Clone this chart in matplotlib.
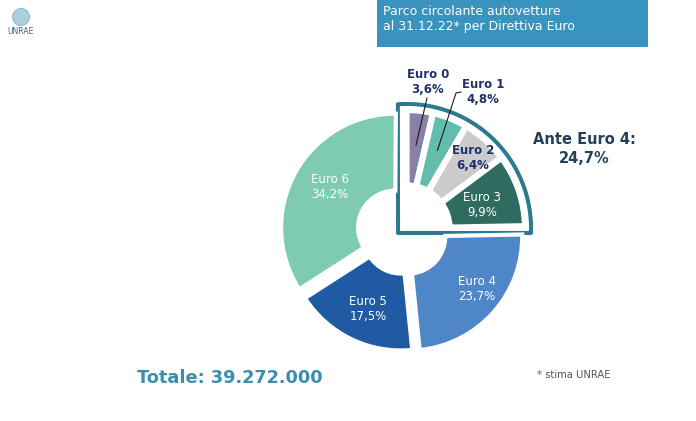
import numpy as np
import matplotlib
matplotlib.use('Agg')
import matplotlib.pyplot as plt
from matplotlib.patches import Polygon, Rectangle, Circle

# ------------------------------- DATA -------------------------------
categories = ['Euro 0', 'Euro 1', 'Euro 2', 'Euro 3', 'Euro 4', 'Euro 5', 'Euro 6']
shares = [3.6, 4.8, 6.4, 9.9, 23.7, 17.5, 34.2]          # % of the fleet
share_labels = ['3,6%', '4,8%', '6,4%', '9,9%', '23,7%', '17,5%', '34,2%']
colors = ['#8780A8', '#63BDAC', '#CBCBCB', '#2F6B5E', '#4F86C8', '#1F5AA3', '#7ECBB1']
ante_label = 'Ante Euro 4:\n24,7%'
total_label = 'Totale: 39.272.000'
title = 'Parco circolante autovetture\nal 31.12.22* per Direttiva Euro'
note = '* stima UNRAE'

W, H = 696, 421
def Y(y):
    # image row -> data y (y axis points up)
    return H - y

# ------------------------------- LAYOUT -------------------------------
fig = plt.figure(figsize=(W / 100, H / 100), dpi=100)
ax = fig.add_axes([0, 0, 1, 1])

cx, cy = 403, Y(232)
R, hole = 114, 37
R_ante, hole_ante = 118.5, 43
ante_shift = 5.0
n_ante = 4

fr = np.array(shares) / 100.0

# ante Euro 4 group (shifted out as a block)
acx = cx + ante_shift * np.cos(np.radians(45))
acy = cy + ante_shift * np.sin(np.radians(45))

# box around the group: arc concentric with the group, square corner bottom-left
rb = R_ante + 6
th = np.radians(np.linspace(-2, 94, 80))
bx = list(acx + rb * np.cos(th)) + [acx - 8.5]
by = list(acy + rb * np.sin(th)) + [acy - 4.5]
bx[0:0] = [acx + rb * np.cos(th[0])]
by[0:0] = [acy - 4.5]
box = Polygon(np.column_stack([bx, by]), closed=True, facecolor='white',
              edgecolor='#2C7A8E', linewidth=2.9, joinstyle='round', zorder=1)
ax.add_patch(box)

w_ante, _ = ax.pie(fr[:n_ante], colors=colors[:n_ante], startangle=90,
                   counterclock=False, normalize=False, radius=R_ante,
                   center=(acx, acy),
                   wedgeprops=dict(width=R_ante - hole_ante, edgecolor='white',
                                   linewidth=4.5))

# Euro 4 .. Euro 6
start_rest = 90 - 360 * fr[:n_ante].sum()
w_rest, _ = ax.pie(fr[n_ante:], colors=colors[n_ante:], startangle=start_rest,
                   counterclock=False, normalize=False, radius=R,
                   center=(cx, cy), explode=[7, 5, 9],
                   wedgeprops=dict(width=R - hole, edgecolor='white',
                                   linewidth=3))
for w in list(w_ante) + list(w_rest):
    w.set_zorder(2)

ax.set_xlim(0, W)
ax.set_ylim(0, H)
ax.set_aspect('equal')
ax.axis('off')

# ------------------------------- LABELS -------------------------------
lab_pos = [(428, 82), (483, 92), (473, 158), (482, 205),
           (477, 289), (368, 309), (330, 187)]
lab_col = ['#1E2F6B', '#1E2F6B', '#1E2F6B', 'white', 'white', 'white', 'white']
lab_wt = ['bold', 'bold', 'bold', 'normal', 'normal', 'normal', 'normal']
for i, cat in enumerate(categories):
    x, y = lab_pos[i]
    ax.text(x, Y(y), cat + '\n' + share_labels[i], ha='center', va='center',
            fontsize=8.5, color=lab_col[i], fontweight=lab_wt[i],
            linespacing=1.15, zorder=5)

# leader lines for Euro 0 and Euro 1
leader_ends = [[(427, 98)], [(456, 93), (461, 92)]]
for i in range(2):
    w = w_ante[i]
    tm = np.radians(0.5 * (w.theta1 + w.theta2))
    px = w.center[0] + 84 * np.cos(tm)
    py = w.center[1] + 84 * np.sin(tm)
    xs = [px] + [p[0] for p in leader_ends[i]]
    ys = [py] + [Y(p[1]) for p in leader_ends[i]]
    ax.plot(xs, ys, color='#1A1A1A', lw=0.8, zorder=6)

ax.text(584, Y(149), ante_label, ha='center', va='center', fontsize=10.5,
        fontweight='bold', color='#233F59', linespacing=1.3)

ax.text(137, Y(378), total_label, ha='left', va='center', fontsize=12.8,
        fontweight='bold', color='#3C8EB0')
ax.text(537, Y(375), note, ha='left', va='center', fontsize=7.2, color='#555555')

# title box
ax.add_patch(Rectangle((377, Y(47)), 271, 47, facecolor='#3894BF',
                       edgecolor='none', zorder=1))
ax.text(383, Y(19), title, ha='left', va='center', fontsize=9,
        color='white', linespacing=1.2)

# small logo
ax.add_patch(Circle((21, Y(17)), 8.5, facecolor='#A9CFE0', edgecolor='#7FAFC8',
                    lw=0.6))
ax.text(21, Y(32), 'UNRAE', ha='center', va='center', fontsize=5.5,
        color='#3E5F78')

fig.savefig('out.png', dpi=100)
